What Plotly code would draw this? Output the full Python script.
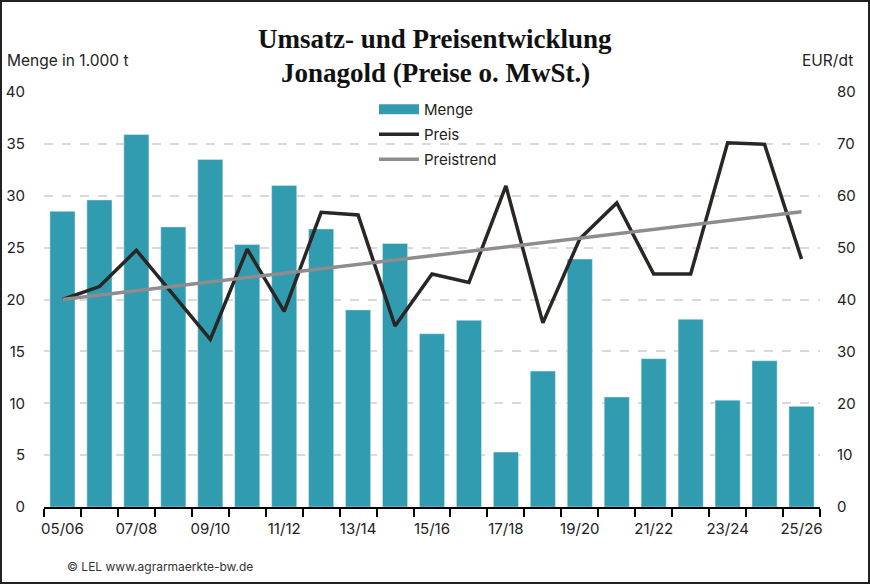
import plotly.graph_objects as go

seasons = ["05/06", "06/07", "07/08", "08/09", "09/10", "10/11", "11/12",
           "12/13", "13/14", "14/15", "15/16", "16/17", "17/18", "18/19",
           "19/20", "20/21", "21/22", "22/23", "23/24", "24/25", "25/26"]
menge = [28.5, 29.6, 35.9, 27.0, 33.5, 25.3, 31.0, 26.8, 19.0, 25.4, 16.7,
         18.0, 5.3, 13.1, 23.9, 10.6, 14.3, 18.1, 10.3, 14.1, 9.7]
preis = [40.0, 42.5, 49.5, 40.9, 32.3, 49.7, 37.7, 56.8, 56.3, 34.9, 44.9,
         43.3, 61.9, 35.5, 51.7, 58.6, 44.9, 44.9, 70.2, 69.9, 47.8]
trend_x = ["05/06", "25/26"]
trend_y = [40.0, 56.9]
tick_labels = [s if i % 2 == 0 else "" for i, s in enumerate(seasons)]

TEAL = "#319CB0"
DARK = "#2A2624"
GREY = "#8E8C8C"
FONT = "Inter, Roboto, sans-serif"
SERIF = "Liberation Serif, serif"

W, H = 870, 584
ML, MR, MT, MB = 44, 50, 92, 77
pw, ph = W - ML - MR, H - MT - MB


def px(x):
    return (x - ML) / pw


def py(y):
    return (H - MB - y) / ph


def note(text, x, y, anchor="center", size=15.5, family=FONT, color="#222222"):
    return dict(text=text, x=px(x), y=py(y), xref="paper", yref="paper",
                xanchor=anchor, yanchor="middle", showarrow=False,
                font=dict(family=family, size=size, color=color))


fig = go.Figure()
fig.add_trace(go.Bar(x=seasons, y=menge, marker_color=TEAL, showlegend=False,
                     name="Menge"))
# legend stand-in so the bar symbol is a wide block like the original
fig.add_trace(go.Scatter(x=[None], y=[None], mode="lines", name="Menge",
                         line=dict(color=TEAL, width=12), legendgroup="a"))
fig.add_trace(go.Scatter(x=seasons, y=preis, mode="lines", name="Preis",
                         line=dict(color=DARK, width=3.5), yaxis="y2",
                         legendgroup="b"))
fig.add_trace(go.Scatter(x=trend_x, y=trend_y, mode="lines", name="Preistrend",
                         line=dict(color=GREY, width=3.5), yaxis="y2",
                         legendgroup="c"))

fig.update_layout(
    width=W, height=H,
    margin=dict(l=ML, r=MR, t=MT, b=MB),
    paper_bgcolor="white", plot_bgcolor="white",
    font=dict(family=FONT, size=15, color="#222222"),
    bargap=0.32,
    xaxis=dict(
        type="category", tickmode="array", tickvals=seasons, ticktext=tick_labels,
        tickson="boundaries", ticks="outside", ticklen=8, tickwidth=2,
        tickcolor="black", showline=True, linecolor="black", linewidth=2,
        showgrid=False, tickfont=dict(size=15), tickangle=0, automargin=False,
        ticklabelstandoff=7, range=[-0.5, 20.5],
    ),
    yaxis=dict(
        range=[0, 40], dtick=5, showgrid=True, gridcolor="#DCD8D8",
        griddash="dash", gridwidth=1.5, zeroline=False, ticks="",
        ticklabelstandoff=18, tickfont=dict(size=15), automargin=False,
    ),
    yaxis2=dict(
        range=[0, 80], dtick=10, overlaying="y", side="right", showgrid=False,
        zeroline=False, ticks="", ticklabelstandoff=16, tickfont=dict(size=15),
        automargin=False,
    ),
    legend=dict(
        x=px(374), y=py(93), xanchor="left", yanchor="top",
        bgcolor="rgba(0,0,0,0)", itemwidth=40, font=dict(size=15),
        traceorder="grouped", tracegroupgap=2.5,
    ),
    annotations=[
        note("<b>Umsatz- und Preisentwicklung</b>", 435, 39, size=27,
             family=SERIF, color="#111111"),
        note("<b>Jonagold (Preise o. MwSt.)</b>", 435, 73, size=27,
             family=SERIF, color="#111111"),
        note("Menge in 1.000 t", 5, 60, anchor="left"),
        note("EUR/dt", 855, 60, anchor="right"),
        note("© LEL www.agrarmaerkte-bw.de", 65, 566, anchor="left", size=12,
             color="#333333"),
    ],
    shapes=[
        dict(type="rect", xref="paper", yref="paper", x0=px(1), x1=px(869),
             y0=py(583), y1=py(1), line=dict(color="#222222", width=2)),
    ],
)

fig.write_html("out.html", config={"displayModeBar": False},
               post_script="document.body.style.margin = '0';")
